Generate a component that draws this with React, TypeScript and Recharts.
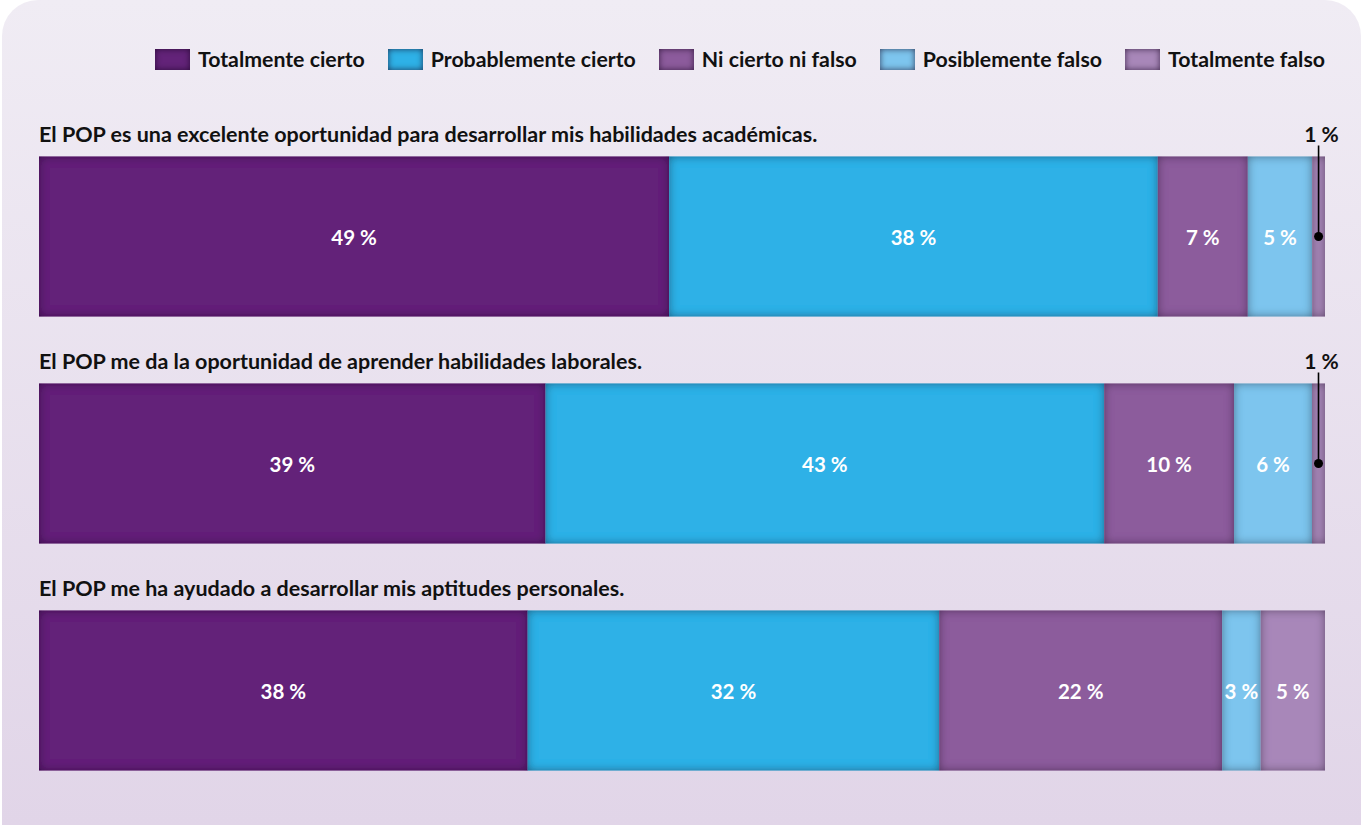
import { BarChart, Bar, XAxis, YAxis, LabelList } from "recharts";

const questions = [
  "El POP es una excelente oportunidad para desarrollar mis habilidades académicas.",
  "El POP me da la oportunidad de aprender habilidades laborales.",
  "El POP me ha ayudado a desarrollar mis aptitudes personales.",
];

const totalmenteCierto = [49, 39, 38];
const probablementeCierto = [38, 43, 32];
const niCiertoNiFalso = [7, 10, 22];
const posiblementeFalso = [5, 6, 3];
const totalmenteFalso = [1, 1, 5];

const series = [
  { key: "tc", name: "Totalmente cierto", color: "#632379", values: totalmenteCierto },
  { key: "pc", name: "Probablemente cierto", color: "#2eb1e7", values: probablementeCierto },
  { key: "nn", name: "Ni cierto ni falso", color: "#8c5b9c", values: niCiertoNiFalso },
  { key: "pf", name: "Posiblemente falso", color: "#7dc5ee", values: posiblementeFalso },
  { key: "tf", name: "Totalmente falso", color: "#a887b9", values: totalmenteFalso },
];

const data = questions.map((q, i) => {
  const row: any = { question: q };
  series.forEach((s) => (row[s.key] = s.values[i]));
  return row;
});

const FONT = "Lato, 'Open Sans', sans-serif";
const W = 1362;
const H = 825;
const LEFT = 39;

const InsetRect = (props: any) => {
  const { x, y, width, height, fill } = props;
  if (!width || width <= 0) return null;
  return <rect x={x} y={y} width={width} height={height} fill={fill} filter="url(#inset)" />;
};

// question title sits above the first segment of each bar
const QuestionLabel = (props: any) => {
  const vb = props.viewBox || props;
  return (
    <text x={vb.x} y={vb.y - 15} fontFamily={FONT} fontWeight={700} fontSize={21.5} fill="#111">
      {props.value}
    </text>
  );
};

const ValueLabel = (props: any) => {
  const vb = props.viewBox || props;
  const { x, y, width, height } = vb;
  const value = props.value;
  const cx = x + width / 2;
  const cy = y + height / 2;
  if (value <= 1) {
    return (
      <g>
        <text x={cx + 3} y={y - 15} textAnchor="middle" fontFamily={FONT} fontWeight={700} fontSize={21} fill="#111">
          {`${value} %`}
        </text>
        <line x1={cx} x2={cx} y1={y - 11} y2={cy} stroke="#000" strokeWidth={1.6} />
        <circle cx={cx} cy={cy} r={4.5} fill="#000" />
      </g>
    );
  }
  return (
    <text x={cx} y={cy + 3} textAnchor="middle" dominantBaseline="middle" fontFamily={FONT} fontWeight={700} fontSize={20.5} fill="#fff">
      {`${value} %`}
    </text>
  );
};

function LegendRow() {
  return (
    <div
      style={{
        position: "absolute",
        top: 46,
        right: W - 1325,
        display: "flex",
        alignItems: "center",
        gap: 23,
        fontFamily: FONT,
        fontWeight: 700,
        fontSize: 21.3,
        color: "#111",
      }}
    >
      {series.map((s) => (
        <div key={s.key} style={{ display: "flex", alignItems: "center", gap: 8 }}>
          <span
            style={{
              width: 35,
              height: 21,
              background: s.color,
              boxShadow: "inset 0 0 6px rgba(20,0,30,0.7)",
              display: "inline-block",
            }}
          />
          <span>{s.name}</span>
        </div>
      ))}
    </div>
  );
}

export default function App() {
  return (
    <div style={{ position: "relative", width: W, height: H, overflow: "hidden" }}>
      <style>{`body{margin:0}`}</style>
      <div
        style={{
          position: "absolute",
          left: 2,
          top: 0,
          width: W - 3,
          height: H,
          borderRadius: "36px 36px 0 0",
          background: "linear-gradient(to bottom, #f0ecf4 0%, #e1d5e8 100%)",
        }}
      />
      <div style={{ position: "absolute", left: 0, top: 0 }}>
        <BarChart
          width={W}
          height={H}
          data={data}
          layout="vertical"
          stackOffset="expand"
          barSize={160}
          margin={{ top: 122.5, right: W - 1325, bottom: 21.5, left: LEFT }}
        >
          <defs>
            <filter id="inset" filterUnits="userSpaceOnUse" x={0} y={0} width={W} height={H}>
              <feFlood floodColor="#1a0020" floodOpacity={0.8} result="flood" />
              <feComposite in="flood" in2="SourceAlpha" operator="out" result="outside" />
              <feGaussianBlur in="outside" stdDeviation={5} result="blur" />
              <feComposite in="blur" in2="SourceAlpha" operator="in" result="shadow" />
              <feMerge>
                <feMergeNode in="SourceGraphic" />
                <feMergeNode in="shadow" />
              </feMerge>
            </filter>
          </defs>
          <XAxis type="number" domain={[0, 1]} hide />
          <YAxis type="category" dataKey="question" hide />
          {series.map((s, i) => (
            <Bar
              key={s.key}
              dataKey={s.key}
              name={s.name}
              stackId="a"
              fill={s.color}
              shape={<InsetRect />}
              isAnimationActive={false}
            >
              <LabelList dataKey={s.key} content={<ValueLabel />} />
              {i === 0 && <LabelList dataKey="question" content={<QuestionLabel />} />}
            </Bar>
          ))}
        </BarChart>
      </div>
      <LegendRow />
    </div>
  );
}
